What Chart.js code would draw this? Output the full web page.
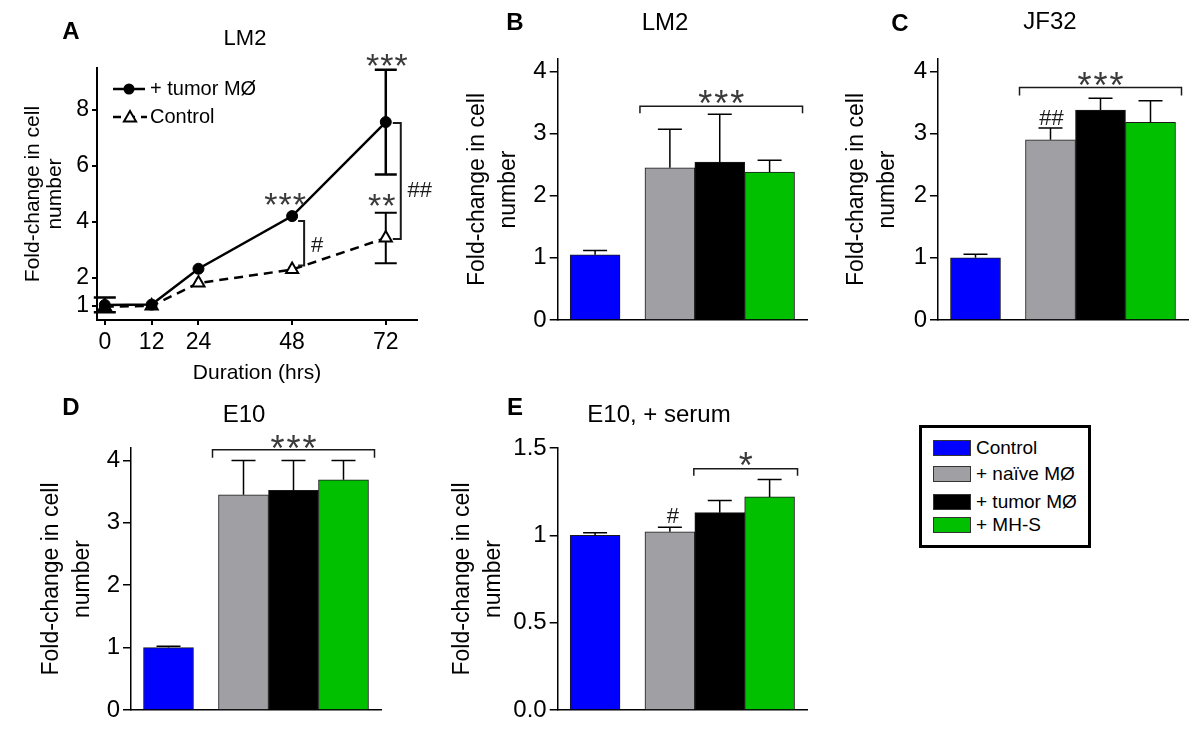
<!DOCTYPE html>
<html>
<head>
<meta charset="utf-8">
<title>Fold-change in cell number</title>
<script src="https://cdn.jsdelivr.net/npm/chart.js@4.4.1/dist/chart.umd.min.js"></script>
<style>
html,body{margin:0;padding:0;background:#fff;}
#wrap{position:relative;width:1200px;height:738px;overflow:hidden;background:#fff;}
#wrap canvas{position:absolute;left:0;top:0;}
#legend{position:absolute;left:919px;top:425px;width:166px;height:117px;border:3px solid #000;background:#fff;font-family:"Liberation Sans",Arial,Helvetica,sans-serif;font-size:19px;color:#000;}
.lg{position:absolute;left:11px;height:20px;line-height:20px;white-space:nowrap;}
.lg i{display:inline-block;width:36px;height:14px;border:1px solid #333;vertical-align:middle;margin-right:5px;position:relative;top:-1px;}
</style>
</head>
<body>
<div id="wrap">
  <canvas id="cA" width="1200" height="738"></canvas>
  <canvas id="cB" width="1200" height="738"></canvas>
  <canvas id="cC" width="1200" height="738"></canvas>
  <canvas id="cD" width="1200" height="738"></canvas>
  <canvas id="cE" width="1200" height="738"></canvas>
  <div id="legend"></div>
</div>
<script>
// ---------------- data ----------------
// Panel A: LM2 time course
const timeLabels = [0, 12, 24, 48, 72];
const tumorMean = [1.04, 1.05, 2.33, 4.21, 7.57];
const tumorSD = [0.26, 0, 0, 0, 1.87];
const controlMean = [0.98, 1.0, 1.82, 2.3, 3.43];
const controlSD = [0, 0, 0, 0, 0.9];
const yTicksA = [1, 2, 4, 6, 8];

// Panels B-E: bar groups
const groups = ['Control', '+ naïve MØ', '+ tumor MØ', '+ MH-S'];
const lm2Mean = [1.05, 2.45, 2.54, 2.38];
const lm2SEM = [0.07, 0.62, 0.77, 0.19];
const jf32Mean = [1.0, 2.9, 3.38, 3.18];
const jf32SEM = [0.06, 0.19, 0.19, 0.35];
const e10Mean = [1.0, 3.45, 3.52, 3.69];
const e10SEM = [0.02, 0.55, 0.48, 0.31];
const e10sMean = [1.0, 1.02, 1.13, 1.22];
const e10sSEM = [0.015, 0.026, 0.07, 0.10];
const barTicks = [0, 1, 2, 3, 4];
const serumTicks = [0, 0.5, 1, 1.5];
const serumTickLabels = ['0.0', '0.5', '1', '1.5'];
const yTitle = ['Fold-change in cell', 'number'];

// ---------------- styles ----------------
const groupColors = ['#0000ff', '#a0a0a4', '#000000', '#00c000'];
const FAMILY = '"Liberation Sans", Arial, Helvetica, sans-serif';
const W = 1200, H = 738;

// ---------------- drawing helpers ----------------
function drawSymbol(ctx, text, x, cy, size, spacing) {
  ctx.font = size + 'px ' + FAMILY;
  ctx.textAlign = 'center';
  ctx.textBaseline = 'alphabetic';
  const star = text[0] === '*';
  ctx.fillStyle = star ? '#3a3a3a' : '#1a1a1a';
  if ('letterSpacing' in ctx) ctx.letterSpacing = (spacing || 0) + 'px';
  const k = star ? 0.57 : 0.36;
  ctx.fillText(text, x + (spacing || 0) / 2, cy + k * size);
  if ('letterSpacing' in ctx) ctx.letterSpacing = '0px';
}
function drawErrors(chart, errors) {
  const ctx = chart.ctx, yS = chart.scales.y;
  (errors || []).forEach(e => {
    const meta = chart.getDatasetMeta(e.ds);
    const data = chart.data.datasets[e.ds].data;
    ctx.save();
    ctx.strokeStyle = '#000'; ctx.lineWidth = e.lw; ctx.lineCap = 'butt';
    meta.data.forEach((el, i) => {
      const sd = e.sd[i];
      if (!sd) return;
      const v = data[i].y;
      const hi = yS.getPixelForValue(v + sd);
      const lo = e.both ? yS.getPixelForValue(v - sd) : el.y;
      ctx.beginPath();
      ctx.moveTo(el.x, lo); ctx.lineTo(el.x, hi);
      ctx.moveTo(el.x - e.cap / 2, hi); ctx.lineTo(el.x + e.cap / 2, hi);
      if (e.both) { ctx.moveTo(el.x - e.cap / 2, lo); ctx.lineTo(el.x + e.cap / 2, lo); }
      ctx.stroke();
    });
    ctx.restore();
  });
}
function drawNote(chart, n) {
  const ctx = chart.ctx, yS = chart.scales.y;
  ctx.save();
  ctx.strokeStyle = '#1a1a1a'; ctx.lineWidth = n.lw || 1.5;
  if (n.type === 'mark') {
    const el = chart.getDatasetMeta(n.ds).data[n.index];
    drawSymbol(ctx, n.text, el.x + (n.dx || 0), yS.getPixelForValue(n.value) - n.dy, n.size, n.spacing);
  } else if (n.type === 'hbracket') {
    const els = chart.getDatasetMeta(0).data;
    const a = els[n.from], b = els[n.to];
    const x1 = a.x - a.width / 2 - n.padL, x2 = b.x + b.width / 2 + n.padR;
    const y = yS.getPixelForValue(n.value);
    ctx.beginPath();
    ctx.moveTo(x1, y + n.drop); ctx.lineTo(x1, y); ctx.lineTo(x2, y); ctx.lineTo(x2, y + n.drop);
    ctx.stroke();
    drawSymbol(ctx, n.text, (x1 + x2) / 2 + (n.textDx || 0), y - n.textDy, n.size, n.spacing);
  } else if (n.type === 'vbracket') {
    const p = chart.getDatasetMeta(0).data[n.index], q = chart.getDatasetMeta(1).data[n.index];
    const x = p.x + n.dx, y1 = p.y + n.inTop, y2 = q.y - n.inBottom;
    ctx.beginPath();
    ctx.moveTo(x - n.tick, y1); ctx.lineTo(x, y1); ctx.lineTo(x, y2); ctx.lineTo(x - n.tick, y2);
    ctx.stroke();
    drawSymbol(ctx, n.text, x + n.textDx, (y1 + y2) / 2 + (n.textDy || 0), n.size, n.spacing);
  }
  ctx.restore();
}
function drawHeading(ctx, cfg) {
  ctx.save();
  ctx.fillStyle = '#000'; ctx.textBaseline = 'middle'; ctx.textAlign = 'center';
  ctx.font = 'bold ' + cfg.letter.size + 'px ' + FAMILY;
  ctx.fillText(cfg.letter.text, cfg.letter.x, cfg.letter.y);
  ctx.font = cfg.title.size + 'px ' + FAMILY;
  ctx.fillText(cfg.title.text, cfg.title.x, cfg.title.y);
  ctx.restore();
}
function drawTriangle(ctx, x, y, r) {
  ctx.beginPath();
  let rad = 0;
  ctx.moveTo(x + Math.sin(rad) * r, y - Math.cos(rad) * r);
  rad += Math.PI * 2 / 3; ctx.lineTo(x + Math.sin(rad) * r, y - Math.cos(rad) * r);
  rad += Math.PI * 2 / 3; ctx.lineTo(x + Math.sin(rad) * r, y - Math.cos(rad) * r);
  ctx.closePath();
}
function drawLegendA(chart, lg) {
  const ctx = chart.ctx;
  const ds = chart.data.datasets;
  ctx.save();
  ctx.strokeStyle = '#000'; ctx.fillStyle = '#000'; ctx.lineWidth = 2.5;
  // row 1: solid line + filled circle
  ctx.beginPath(); ctx.moveTo(lg.x0, lg.y1); ctx.lineTo(lg.x1, lg.y1); ctx.stroke();
  ctx.beginPath(); ctx.arc(lg.xm, lg.y1, 5.5, 0, Math.PI * 2); ctx.fill();
  // row 2: dashed line + open triangle
  ctx.setLineDash([8, 6]);
  ctx.beginPath(); ctx.moveTo(lg.x0, lg.y2); ctx.lineTo(lg.x1 + 2, lg.y2); ctx.stroke();
  ctx.setLineDash([]);
  ctx.lineWidth = 2; ctx.fillStyle = '#fff';
  drawTriangle(ctx, lg.xm + 1, lg.y2 + 1, 7); ctx.fill(); ctx.stroke();
  ctx.fillStyle = '#000';
  ctx.font = lg.size + 'px ' + FAMILY; ctx.textAlign = 'left'; ctx.textBaseline = 'middle';
  ctx.fillText(ds[0].label, lg.tx, lg.y1);
  ctx.fillText(ds[1].label, lg.tx, lg.y2);
  ctx.restore();
}
function decor(cfg) {
  return {
    id: 'decor',
    beforeDatasetsDraw(chart) { if (cfg.errorsBelow) drawErrors(chart, cfg.errors); },
    afterDatasetsDraw(chart) {
      if (!cfg.errorsBelow) drawErrors(chart, cfg.errors);
      (cfg.notes || []).forEach(n => drawNote(chart, n));
    },
    afterDraw(chart) {
      drawHeading(chart.ctx, cfg);
      if (cfg.legendA) drawLegendA(chart, cfg.legendA);
    }
  };
}
function axisGrid(len, lw) {
  return { display: true, drawOnChartArea: false, drawTicks: true, tickLength: len, color: '#000', lineWidth: lw };
}

// ---------------- Panel A ----------------
(function () {
  const area = { l: 97, t: 68, r: 417, b: 320 };
  const yW = 75, xH = 65.6;
  new Chart(document.getElementById('cA'), {
    type: 'line',
    data: {
      datasets: [
        {
          label: '+ tumor MØ',
          data: timeLabels.map((t, i) => ({ x: t, y: tumorMean[i] })),
          borderColor: '#000', borderWidth: 2.5, tension: 0,
          pointStyle: 'circle', pointRadius: 5.5, pointBackgroundColor: '#000',
          pointBorderColor: '#000', pointBorderWidth: 1
        },
        {
          label: 'Control',
          data: timeLabels.map((t, i) => ({ x: t, y: controlMean[i] })),
          borderColor: '#000', borderWidth: 2.5, borderDash: [9, 6], tension: 0,
          pointStyle: 'triangle', pointRadius: 7, pointBackgroundColor: '#fff',
          pointBorderColor: '#000', pointBorderWidth: 2
        }
      ]
    },
    options: {
      responsive: false, animation: false, devicePixelRatio: 1,
      clip: false,
      layout: { padding: { left: area.l - yW, top: area.t, right: W - area.r, bottom: H - area.b - xH } },
      plugins: { legend: { display: false }, tooltip: { enabled: false }, title: { display: false } },
      scales: {
        x: {
          type: 'linear', min: -2, max: 80,
          afterBuildTicks: s => { s.ticks = timeLabels.map(v => ({ value: v })); },
          afterFit: s => { s.height = xH; },
          ticks: { color: '#000', font: { size: 23, family: FAMILY }, padding: 4, maxRotation: 0, autoSkip: false },
          grid: axisGrid(5, 2),
          border: { display: true, color: '#000', width: 2 },
          title: { display: true, text: 'Duration (hrs)', color: '#000', font: { size: 21, family: FAMILY }, padding: 0 }
        },
        y: {
          type: 'linear', min: 0.5, max: 9.5,
          afterBuildTicks: s => { s.ticks = yTicksA.map(v => ({ value: v })); },
          afterFit: s => { s.width = yW; },
          ticks: { color: '#000', font: { size: 23, family: FAMILY }, padding: 3 },
          grid: axisGrid(5, 2),
          border: { display: true, color: '#000', width: 2 },
          title: { display: true, text: yTitle, color: '#000', font: { size: 21, family: FAMILY, lineHeight: 1.05 }, padding: 0 }
        }
      }
    },
    plugins: [decor({
      letter: { text: 'A', x: 71, y: 32, size: 24 },
      title: { text: 'LM2', x: 245, y: 39, size: 22 },
      errorsBelow: true,
      errors: [
        { ds: 0, sd: tumorSD, both: true, cap: 22, lw: 2.5 },
        { ds: 1, sd: controlSD, both: true, cap: 22, lw: 2 }
      ],
      notes: [
        { type: 'mark', ds: 0, index: 3, value: tumorMean[3], dy: 20, dx: -7, text: '***', size: 34, spacing: 1 },
        { type: 'mark', ds: 0, index: 4, value: tumorMean[4] + tumorSD[4], dy: 12, dx: 1, text: '***', size: 34, spacing: 1 },
        { type: 'mark', ds: 1, index: 4, value: controlMean[4] + controlSD[4], dy: 15, dx: -4, text: '**', size: 34, spacing: 1 },
        { type: 'vbracket', index: 3, dx: 12, tick: 6, inTop: 5, inBottom: 4, text: '#', textDx: 13, textDy: 1, size: 22, lw: 2 },
        { type: 'vbracket', index: 4, dx: 15, tick: 8, inTop: 1, inBottom: -1, text: '##', textDx: 19, textDy: 8, size: 22, lw: 2 }
      ],
      legendA: { x0: 113, x1: 145, xm: 129, y1: 89, y2: 117, tx: 150, size: 20 }
    })]
  });
})();

// ---------------- Bar panels ----------------
function makeBar(id, mean, sem, o) {
  const slots = groups.map((g, i) => (i === 0 ? 0 : i + 0.5));
  const xH = 10;
  return new Chart(document.getElementById(id), {
    type: 'bar',
    data: {
      datasets: [{
        label: o.decor.title.text,
        data: mean.map((v, i) => ({ x: slots[i], y: v })),
        backgroundColor: groupColors,
        borderColor: '#1a1a1a', borderWidth: 1, borderSkipped: 'bottom',
        barPercentage: 1, categoryPercentage: 1
      }]
    },
    options: {
      responsive: false, animation: false, devicePixelRatio: 1,
      layout: { padding: { left: o.area.l - o.yW, top: o.area.t, right: W - o.area.r, bottom: H - o.area.b - xH } },
      plugins: { legend: { display: false }, tooltip: { enabled: false }, title: { display: false } },
      scales: {
        x: {
          type: 'linear', min: -0.75, max: 4.25, offset: false,
          afterFit: s => { s.height = xH; },
          ticks: { display: false },
          grid: { display: false, offset: false },
          border: { display: true, color: '#000', width: 1.5 }
        },
        y: {
          type: 'linear', min: 0, max: o.yMax,
          afterBuildTicks: s => { s.ticks = o.ticks.map(v => ({ value: v })); },
          afterFit: s => { s.width = o.yW; },
          ticks: {
            color: '#000', font: { size: 24, family: FAMILY }, padding: 3,
            callback: (v, i) => (o.tickLabels ? o.tickLabels[i] : String(v))
          },
          grid: axisGrid(8, 1.5),
          border: { display: true, color: '#000', width: 1.5 },
          title: { display: true, text: yTitle, color: '#000', font: { size: 23, family: FAMILY, lineHeight: 1.35 }, padding: 0 }
        }
      }
    },
    plugins: [decor(Object.assign({ errors: [{ ds: 0, sd: sem, both: false, cap: 24, lw: 1.5 }] }, o.decor))]
  });
}

makeBar('cB', lm2Mean, lm2SEM, {
  area: { l: 557.7, t: 59, r: 807, b: 320 }, yW: 96, yMax: 4.2, ticks: barTicks,
  decor: {
    letter: { text: 'B', x: 515, y: 23, size: 24 },
    title: { text: 'LM2', x: 665, y: 23, size: 24 },
    notes: [{ type: 'hbracket', from: 1, to: 3, value: 3.44, padL: 5, padR: 8, drop: 7, text: '***', textDy: 11, size: 36, spacing: 2 }]
  }
});
makeBar('cC', jf32Mean, jf32SEM, {
  area: { l: 938, t: 59, r: 1188, b: 320 }, yW: 96.5, yMax: 4.2, ticks: barTicks,
  decor: {
    letter: { text: 'C', x: 900, y: 24, size: 24 },
    title: { text: 'JF32', x: 1050, y: 22, size: 24 },
    notes: [
      { type: 'hbracket', from: 1, to: 3, value: 3.74, padL: 6, padR: 6, drop: 8, text: '***', textDy: 10, size: 36, spacing: 2 },
      { type: 'mark', ds: 0, index: 1, value: jf32Mean[1] + jf32SEM[1], dy: 11, dx: 1, text: '##', size: 22 }
    ]
  }
});
makeBar('cD', e10Mean, e10SEM, {
  area: { l: 131, t: 448, r: 381, b: 710 }, yW: 94.5, yMax: 4.2, ticks: barTicks,
  decor: {
    letter: { text: 'D', x: 71, y: 408, size: 24 },
    title: { text: 'E10', x: 244, y: 415, size: 24 },
    notes: [{ type: 'hbracket', from: 1, to: 3, value: 4.17, padL: 6, padR: 6, drop: 8, text: '***', textDy: 9, size: 36, spacing: 2 }]
  }
});
makeBar('cE', e10sMean, e10sSEM, {
  area: { l: 557.7, t: 448, r: 807, b: 710 }, yW: 111, yMax: 1.5, ticks: serumTicks, tickLabels: serumTickLabels,
  decor: {
    letter: { text: 'E', x: 515, y: 408, size: 24 },
    title: { text: 'E10, + serum', x: 659, y: 415, size: 24 },
    notes: [
      { type: 'hbracket', from: 2, to: 3, value: 1.381, padL: 1, padR: 3, drop: 7, text: '*', textDy: 11, size: 36 },
      { type: 'mark', ds: 0, index: 1, value: e10sMean[1] + e10sSEM[1], dy: 12, dx: 3, text: '#', size: 22 }
    ]
  }
});

// ---------------- shared legend ----------------
(function () {
  const box = document.getElementById('legend');
  const rowTops = [10, 36, 64, 87];
  groups.forEach((g, i) => {
    const row = document.createElement('div');
    row.className = 'lg';
    row.style.top = rowTops[i] + 'px';
    const sw = document.createElement('i');
    sw.style.background = groupColors[i];
    row.appendChild(sw);
    row.appendChild(document.createTextNode(g));
    box.appendChild(row);
  });
})();
</script>
</body>
</html>
